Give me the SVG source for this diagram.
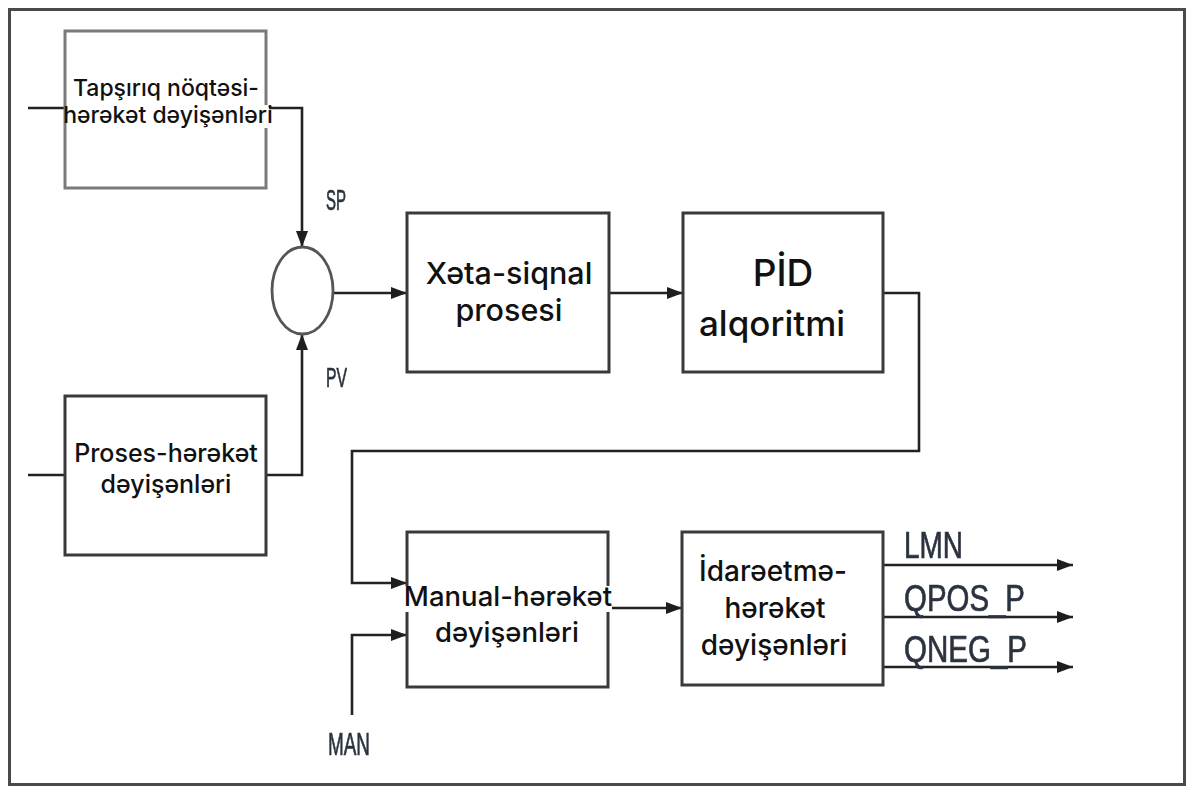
<svg xmlns="http://www.w3.org/2000/svg" width="1187" height="787" viewBox="0 0 1187 787">
  <defs>
    <marker id="arrow" viewBox="0 0 16 12" refX="16" refY="6" markerWidth="16" markerHeight="12" markerUnits="userSpaceOnUse" orient="auto">
      <path d="M0,0 L16,6 L0,12 Z" fill="#1e1e1e"/>
    </marker>
    <filter id="soft" x="-10%" y="-10%" width="120%" height="120%">
      <feGaussianBlur stdDeviation="0.5"/>
    </filter>
  </defs>
  <style>
    .frame { fill: #ffffff; stroke: #4a4a4a; stroke-width: 3; }
    .box { fill: #ffffff; stroke: #3a3a3a; stroke-width: 3; }
    .box-light { fill: #ffffff; stroke: #7a7a7a; stroke-width: 3; }
    .sum { fill: #ffffff; stroke: #555555; stroke-width: 2.8; }
    .wire { fill: none; stroke: #222222; stroke-width: 2.6; }
    .arrow { marker-end: url(#arrow); }
    .lbl { font-family: "Inter", "Noto Sans", sans-serif; font-weight: 500; fill: #111111; text-anchor: middle; }
    .sig { font-family: "Liberation Sans", Arial, sans-serif; fill: #2b3340; stroke: #2b3340; stroke-width: 0.7; }
    .bg { fill: #ffffff; }
  </style>

  <!-- outer frame -->
  <rect class="frame" x="9.5" y="9.5" width="1175" height="775"/>

  <!-- connectors -->
  <g id="connectors">
    <path class="wire" d="M28,108 H65"/>
    <path class="wire arrow" d="M266,108 H302 V247"/>
    <path class="wire" d="M28,475 H65"/>
    <path class="wire arrow" d="M266,475 H302 V334"/>
    <path class="wire arrow" d="M333,293 H407"/>
    <path class="wire arrow" d="M609,293 H683"/>
    <path class="wire arrow" d="M883,293 H919 V451 H352 V583 H407"/>
    <path class="wire arrow" d="M352,715 V635 H407"/>
    <path class="wire arrow" d="M610,608 H682"/>
    <path class="wire arrow" d="M883,565 H1073"/>
    <path class="wire arrow" d="M883,617 H1073"/>
    <path class="wire arrow" d="M883,667 H1073"/>
  </g>

  <!-- setpoint block -->
  <g id="setpoint">
    <rect class="box-light" x="65" y="31" width="201" height="157"/>
    <text class="lbl" x="166" y="96" font-size="23">Tapşırıq nöqtəsi-</text>
    <rect class="bg" x="68" y="105" width="201" height="23"/>
    <text class="lbl" x="168" y="123" font-size="23">hərəkət dəyişənləri</text>
  </g>

  <!-- process variable block -->
  <g id="process">
    <rect class="box" x="65" y="396" width="201" height="159"/>
    <text class="lbl" x="166" y="462" font-size="25">Proses-hərəkət</text>
    <text class="lbl" x="166" y="493" font-size="25">dəyişənləri</text>
  </g>

  <!-- summing junction -->
  <g id="sum">
    <ellipse class="sum" cx="302.5" cy="290.5" rx="30.5" ry="43.5"/>
  </g>

  <!-- error signal block -->
  <g id="error">
    <rect class="box" x="407" y="213" width="202" height="159"/>
    <text class="lbl" x="509" y="284" font-size="30.5">Xəta-siqnal</text>
    <text class="lbl" x="509" y="321" font-size="30.5">prosesi</text>
  </g>

  <!-- PID block -->
  <g id="pid">
    <rect class="box" x="683" y="213" width="200" height="159"/>
    <text class="lbl" x="783" y="286" font-size="37">PİD</text>
    <text class="lbl" x="772" y="336" font-size="35">alqoritmi</text>
  </g>

  <!-- manual block -->
  <g id="manual">
    <rect class="box" x="407" y="532" width="201" height="155"/>
    <rect class="bg" x="403" y="586" width="209" height="26"/>
    <text class="lbl" x="508" y="606" font-size="27.5">Manual-hərəkət</text>
    <text class="lbl" x="507" y="642" font-size="27.5">dəyişənləri</text>
  </g>

  <!-- output block -->
  <g id="output">
    <rect class="box" x="682" y="532" width="201" height="153"/>
    <text class="lbl" x="773" y="581" font-size="28">İdarəetmə-</text>
    <text class="lbl" x="775" y="618" font-size="28">hərəkət</text>
    <text class="lbl" x="774" y="655" font-size="28">dəyişənləri</text>
  </g>

  <!-- signal names -->
  <g id="signals" filter="url(#soft)">
    <text class="sig" x="326" y="210" font-size="29" textLength="20" lengthAdjust="spacingAndGlyphs">SP</text>
    <text class="sig" x="326" y="387" font-size="27" textLength="21" lengthAdjust="spacingAndGlyphs">PV</text>
    <text class="sig" x="328" y="755" font-size="32" textLength="42" lengthAdjust="spacingAndGlyphs">MAN</text>
    <text class="sig" x="904" y="558" font-size="37" textLength="59" lengthAdjust="spacingAndGlyphs">LMN</text>
    <text class="sig" x="904" y="611" font-size="37" textLength="121" lengthAdjust="spacingAndGlyphs">QPOS_P</text>
    <text class="sig" x="904" y="662" font-size="37" textLength="123" lengthAdjust="spacingAndGlyphs">QNEG_P</text>
  </g>
</svg>
